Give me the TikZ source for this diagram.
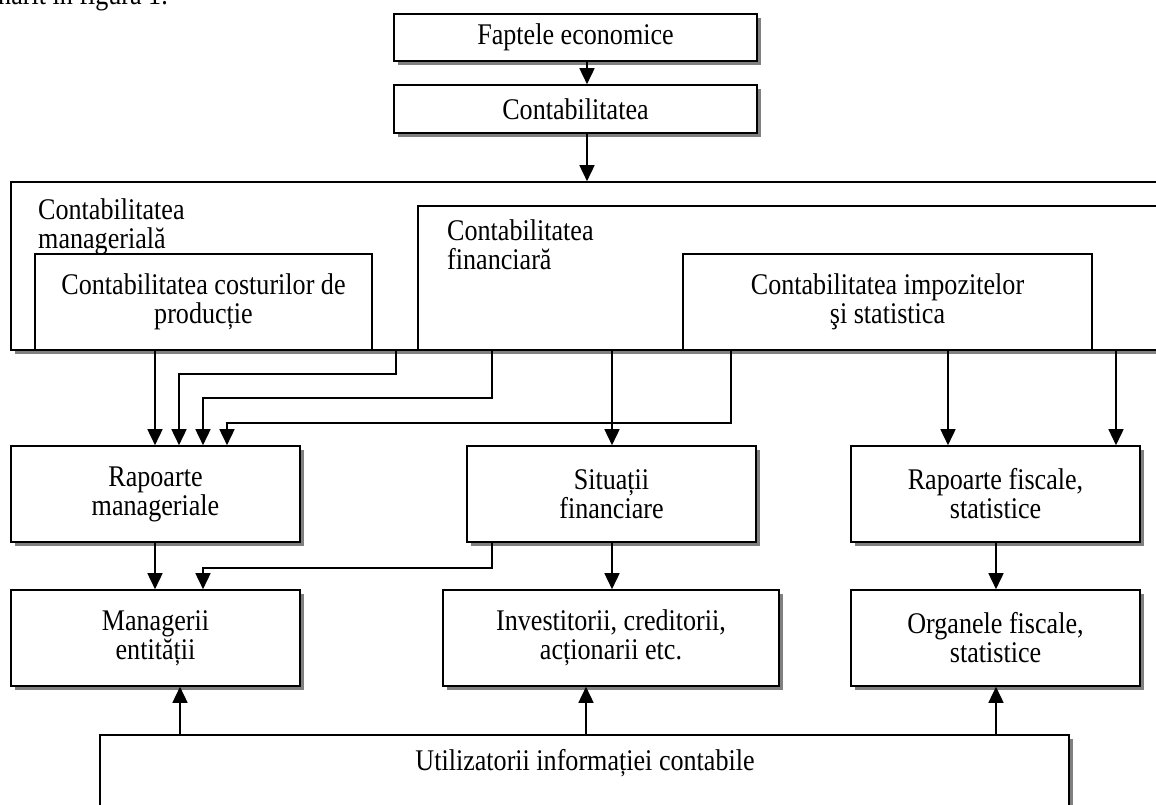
\documentclass[tikz,border=0pt]{standalone}
\usepackage{fontspec}
\setmainfont{Liberation Serif}[FakeStretch=0.87]
\usetikzlibrary{arrows.meta,shadows}
\begin{document}
\begin{tikzpicture}[x=1pt,y=-1pt,
  every node/.style={font=\fontsize{30}{29}\selectfont},
  shbox/.style={draw, line width=1.6pt, fill=white, align=center, inner sep=0pt,
    general shadow={fill=black!50, shadow xshift=4pt, shadow yshift=-4pt}},
  inbox/.style={draw, line width=1.6pt, fill=white, align=center, inner sep=0pt},
  lbl/.style={anchor=north west, align=left, inner sep=0pt},
  arr/.style={line width=1.6pt, -{Triangle[length=16pt,width=15pt]}},
  ]
\useasboundingbox (0,0) rectangle (1156,805);
\fill[white] (0,0) rectangle (1156,805);
\begin{scope}
\clip (0,0) rectangle (1156,805);
\node[anchor=base west, inner sep=0pt] (cap) at (-2,5) {narit în figura 1.};

% x reference coordinates
\coordinate (x155) at (155,0);
\coordinate (x179) at (179,0);
\coordinate (x180) at (180,0);
\coordinate (x203) at (203,0);
\coordinate (x227) at (227,0);
\coordinate (x396) at (396,0);
\coordinate (x492) at (492,0);
\coordinate (x586) at (586,0);
\coordinate (x587) at (587,0);
\coordinate (x612) at (612,0);
\coordinate (x731) at (731,0);
\coordinate (x948) at (948,0);
\coordinate (x996) at (996,0);
\coordinate (x1116) at (1116,0);

\node[shbox, minimum width=363, minimum height=47] (fapt) at (575.5,37.5) {Faptele economice};
\node[shbox, minimum width=363, minimum height=48] (cont) at (575.5,109) {Contabilitatea};

\node[shbox, minimum width=1180, minimum height=168] (mgr) at (601,266) {};
\node[lbl] (mgrl) at (38,198) {Contabilitatea\\managerială};
\node[inbox, minimum width=337, minimum height=96] (cost) at (203.5,302) {Contabilitatea costurilor de\\producție};
\node[inbox, minimum width=770, minimum height=144] (fin) at (803,278) {};
\node[lbl] (finl) at (447,219) {Contabilitatea\\financiară};
\node[inbox, minimum width=409, minimum height=96] (imp) at (887.5,302) {Contabilitatea impozitelor\\şi statistica};

\node[shbox, minimum width=289, minimum height=96] (rm) at (155.5,494) {Rapoarte\\manageriale};
\node[shbox, minimum width=289, minimum height=96] (sf) at (611.5,494) {Situații\\financiare};
\node[shbox, minimum width=289, minimum height=96] (rf) at (995.5,494) {Rapoarte fiscale,\\statistice};

\node[shbox, minimum width=289, minimum height=96] (me) at (155.5,638) {Managerii\\entității};
\node[shbox, minimum width=336, minimum height=96] (inv) at (611,638) {Investitorii, creditorii,\\acționarii etc.};
\node[shbox, minimum width=289, minimum height=96] (org) at (995.5,638) {Organele fiscale,\\statistice};

\node[shbox, minimum width=969, minimum height=140] (util) at (584.5,805) {};
\node (utill) at (585,763) {Utilizatorii informației contabile};

\draw[arr] (fapt.south -| x587) -- (cont.north -| x587);
\draw[arr] (cont.south -| x587) -- (mgr.north -| x587);

\draw[arr] (cost.south -| x155) -- (rm.north -| x155);
\draw[arr] (mgr.south -| x396) -- ++(0,23) -| (rm.north -| x179);
\draw[arr] (fin.south -| x492) -- ++(0,47) -| (rm.north -| x203);
\draw[arr] (imp.south -| x731) -- ++(0,72) -| (rm.north -| x227);
\draw[arr] (fin.south -| x612) -- (sf.north -| x612);
\draw[arr] (imp.south -| x948) -- (rf.north -| x948);
\draw[arr] (fin.south -| x1116) -- (rf.north -| x1116);

\draw[arr] (rm.south -| x155) -- (me.north -| x155);
\draw[arr] (sf.south -| x492) -- ++(0,25) -| (me.north -| x203);
\draw[arr] (sf.south -| x612) -- (inv.north -| x612);
\draw[arr] (rf.south -| x996) -- (org.north -| x996);

\draw[arr] (util.north -| x180) -- (me.south -| x180);
\draw[arr] (util.north -| x586) -- (inv.south -| x586);
\draw[arr] (util.north -| x996) -- (org.south -| x996);
\end{scope}
\end{tikzpicture}
\end{document}
